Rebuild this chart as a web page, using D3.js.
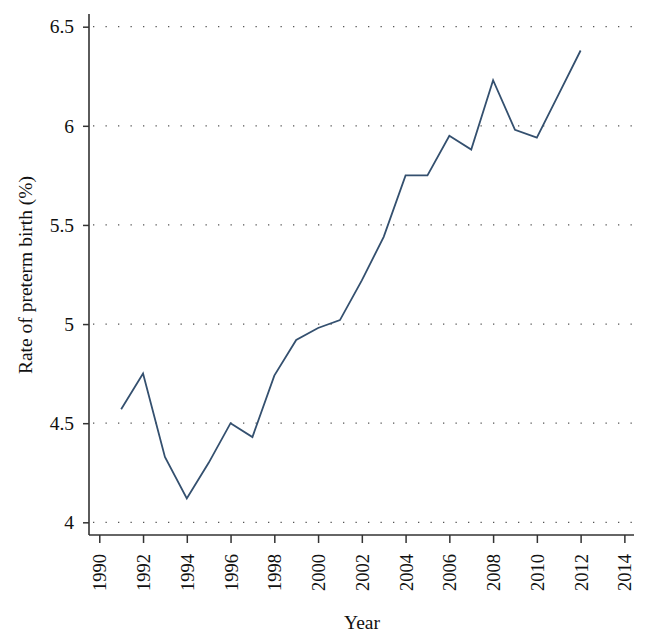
<!DOCTYPE html>
<html><head><meta charset="utf-8">
<script src="https://cdn.jsdelivr.net/npm/d3@7"></script>
<style>body{margin:0;background:#fff;} svg text{font-family:"Liberation Serif","DejaVu Serif",serif !important;fill:#111;}</style>
</head><body>
<svg id="c" width="648" height="643"></svg>
<script>
const years = [1991,1992,1993,1994,1995,1996,1997,1998,1999,2000,2001,2002,2003,2004,2005,2006,2007,2008,2009,2010,2011,2012];
const rates = [4.57,4.75,4.33,4.12,4.30,4.50,4.43,4.74,4.92,4.98,5.02,5.22,5.44,5.75,5.75,5.95,5.88,6.23,5.98,5.94,6.16,6.38];
const yTicks = [4,4.5,5,5.5,6,6.5];
const xTicks = [1990,1992,1994,1996,1998,2000,2002,2004,2006,2008,2010,2012,2014];
const yTickLabels = ["4","4.5","5","5.5","6","6.5"];

const svg = d3.select("#c");
const L=89, R=634, T=14, B=535;
const x = d3.scaleLinear().domain([1989.53,2014.44]).range([L,R]);
const y = d3.scaleLinear().domain([3.936,6.564]).range([B,T]);

// grid
svg.append("g").selectAll("line").data(yTicks).join("line")
  .attr("x1",L+4).attr("x2",R).attr("y1",d=>y(d)).attr("y2",d=>y(d))
  .attr("stroke","#555").attr("stroke-width",1.3).attr("stroke-dasharray","1.3 11.2");

// y axis
const ya = svg.append("g").attr("transform",`translate(${L},0)`)
  .call(d3.axisLeft(y).tickValues(yTicks).tickSize(6).tickPadding(10).tickFormat((d,i)=>yTickLabels[i]));
ya.attr("font-family",null).attr("font-size",null);
ya.select(".domain").attr("stroke","#333").attr("stroke-width",1.6).attr("d",`M0,${T}V${B}`);
ya.selectAll(".tick line").attr("stroke","#333").attr("stroke-width",1.5);
ya.selectAll(".tick text").style("font-size","19.5px").attr("fill","#111").attr("x",-15);

// x axis
const xa = svg.append("g").attr("transform",`translate(0,${B})`)
  .call(d3.axisBottom(x).tickValues(xTicks).tickSize(8).tickFormat(d3.format("d")));
xa.attr("font-family",null).attr("font-size",null);
xa.select(".domain").attr("stroke","#333").attr("stroke-width",1.6).attr("d",`M${L},0H${R}`);
xa.selectAll(".tick line").attr("stroke","#333").attr("stroke-width",1.5);
xa.selectAll(".tick text").style("font-size","18.5px").attr("fill","#111")
  .attr("transform","rotate(-90)").attr("text-anchor","end").attr("x",-19).attr("y",0).attr("dy","0.35em");

// line
svg.append("path").datum(years.map((yr,i)=>[yr,rates[i]]))
  .attr("fill","none").attr("stroke","#34506f").attr("stroke-width",1.8).attr("stroke-linejoin","miter")
  .attr("d",d3.line().x(d=>x(d[0])).y(d=>y(d[1])));

// titles
svg.append("text").attr("x",362).attr("y",629).attr("text-anchor","middle").style("font-size","19.5px").text("Year");
svg.append("text").attr("transform","translate(32,275) rotate(-90)").attr("text-anchor","middle").style("font-size","19.5px").text("Rate of preterm birth (%)");
</script>
</body></html>
